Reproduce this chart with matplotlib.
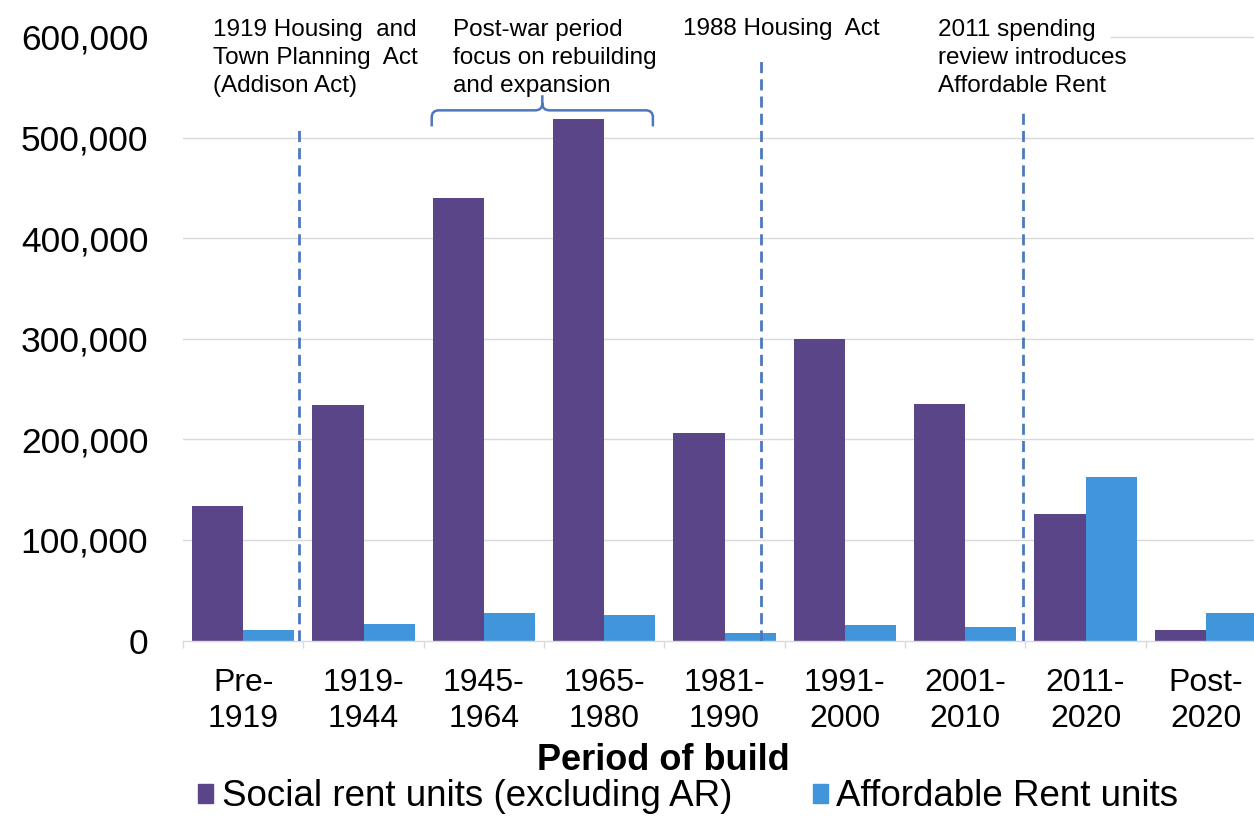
import matplotlib
matplotlib.use("Agg")
import matplotlib.pyplot as plt
import numpy as np
from matplotlib.path import Path
from matplotlib.patches import PathPatch, Patch
from matplotlib.ticker import FuncFormatter

plt.rcParams['font.family'] = ['Liberation Sans', 'DejaVu Sans']

# Data: dwellings by period of build
periods = ["Pre-\n1919", "1919-\n1944", "1945-\n1964", "1965-\n1980", "1981-\n1990",
           "1991-\n2000", "2001-\n2010", "2011-\n2020", "Post-\n2020"]
social_rent = [134000, 234000, 440000, 518000, 206000, 300000, 235000, 126000, 10000]
affordable_rent = [10000, 16000, 27000, 25000, 7000, 15000, 13000, 163000, 27000]
series_names = ["Social rent units (excluding AR)", "Affordable Rent units"]
y_ticks = [0, 100000, 200000, 300000, 400000, 500000, 600000]

PURPLE = "#5B4589"
BLUE = "#4196DB"
MARKER_BLUE = "#4E78BE"
GRID = "#D9D9D9"

W, H = 1254, 832
fig = plt.figure(figsize=(W / 100, H / 100), dpi=100)
ax = fig.add_axes([183 / W, (H - 640.5) / H, (1266 - 183) / W, (640.5 - 36.9) / H])

x = np.arange(len(periods))
bw = 0.425
ax.bar(x - bw / 2, social_rent, bw, color=PURPLE, zorder=2, label=series_names[0])
ax.bar(x + bw / 2, affordable_rent, bw, color=BLUE, zorder=2, label=series_names[1])

ax.set_xlim(-0.5, len(periods) - 0.5)
ax.set_ylim(0, 600000)

# horizontal gridlines (top one is partly covered by the annotation boxes)
for t in y_ticks[1:-1]:
    ax.axhline(t, color=GRID, lw=1.0, zorder=0)
ax.hlines(y_ticks[-1], 7.2, len(periods) - 0.5, color=GRID, lw=1.0, zorder=0, clip_on=False)

for s in ["top", "right", "left"]:
    ax.spines[s].set_visible(False)
ax.spines["bottom"].set_color(GRID)
ax.spines["bottom"].set_linewidth(1.0)

ax.set_yticks(y_ticks)
ax.yaxis.set_major_formatter(FuncFormatter(lambda v, p: f"{int(v):,}"))
ax.tick_params(axis="y", length=0, pad=25, labelsize=25.5, labelcolor="#000000")

ax.set_xticks(x)
ax.set_xticklabels(periods, fontsize=23, linespacing=1.27)
ax.set_xticks(np.arange(len(periods) + 1) - 0.5, minor=True)
ax.tick_params(axis="x", which="major", length=0, pad=20)
ax.tick_params(axis="x", which="minor", length=5, color=GRID, width=1.0)

# policy markers
dash_kw = dict(color=MARKER_BLUE, lw=2.0, dashes=(4, 2.2), zorder=3)
ax.plot([0.46, 0.46], [0, 511000], **dash_kw)
ax.plot([4.30, 4.30], [0, 580000], **dash_kw)
ax.plot([6.48, 6.48], [0, 529000], **dash_kw)

# curly brace over the post-war decades
x0, x1 = 1.567, 3.405
xm = (x0 + x1) / 2
y_end, y_h, y_pk = 511000, 527000, 542000
rx, ry = 0.06, 7000
verts = [
    (x0, y_end), (x0, y_h - ry), (x0, y_h), (x0 + rx, y_h),
    (xm - rx, y_h), (xm, y_h), (xm, y_h + ry), (xm, y_pk),
    (xm, y_h + ry), (xm, y_h), (xm + rx, y_h),
    (x1 - rx, y_h), (x1, y_h), (x1, y_h - ry), (x1, y_end),
]
codes = [Path.MOVETO, Path.LINETO, Path.CURVE3, Path.CURVE3,
         Path.LINETO, Path.CURVE3, Path.CURVE3, Path.LINETO,
         Path.MOVETO, Path.CURVE3, Path.CURVE3,
         Path.LINETO, Path.CURVE3, Path.CURVE3, Path.LINETO]
ax.add_patch(PathPatch(Path(verts, codes), fill=False, edgecolor=MARKER_BLUE,
                       lw=1.8, zorder=3, clip_on=False))

# annotations: first baseline at 35 px, about 28 px between lines
notes = [
    (213, "1919 Housing  and\nTown Planning  Act\n(Addison Act)"),
    (453, "Post-war period\nfocus on rebuilding\nand expansion"),
    (683, "1988 Housing  Act"),
    (938, "2011 spending\nreview introduces\nAffordable Rent"),
]
for px, txt in notes:
    n_lines = txt.count("\n") + 1
    last_base = 35 + 28.3 * (n_lines - 1)
    fig.text(px / W, 1 - last_base / H, txt, ha="left", va="baseline", fontsize=17.5,
             linespacing=1.33, color="#000000")

fig.text(663 / W, 1 - 760 / H, "Period of build", ha="center", va="center",
         fontsize=26, fontweight="bold")

handles = [Patch(color=PURPLE), Patch(color=BLUE)]
fig.legend(handles, series_names, loc="center left",
           bbox_to_anchor=(198 / W, 1 - 797 / H), ncol=2, frameon=False,
           fontsize=26.5, handlelength=0.42, handleheight=0.42,
           handletextpad=0.22, columnspacing=2.2, borderpad=0, borderaxespad=0)

fig.savefig("out.png", dpi=100)
